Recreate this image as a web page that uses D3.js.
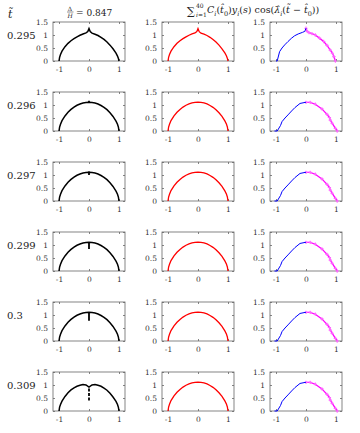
<!DOCTYPE html>
<html>
<head>
<meta charset="utf-8">
<script src="https://cdn.jsdelivr.net/npm/d3@7"></script>
<style>
  body { margin: 0; background: #fff; }
  svg { display: block; }
</style>
</head>
<body>
<svg id="chart" width="360" height="433"></svg>
<script>
// row labels (t tilde values)
var rowLabels = ["0.295", "0.296", "0.297", "0.299", "0.3", "0.309"];
var xTicks = [-1, 0, 1];
var yTicks = [0, 0.5, 1, 1.5];

// interface profile, smooth rows
var sGrid = [-1, -0.98, -0.95, -0.9, -0.8, -0.7, -0.6, -0.5, -0.4, -0.3, -0.2, -0.1, 0,
             0.1, 0.2, 0.3, 0.4, 0.5, 0.6, 0.7, 0.8, 0.9, 0.95, 0.98, 1];
var domeY = [0, 0.15, 0.26, 0.4, 0.58, 0.72, 0.83, 0.92, 0.99, 1.04, 1.08, 1.1, 1.11,
             1.1, 1.08, 1.04, 0.98, 0.91, 0.82, 0.7, 0.56, 0.38, 0.26, 0.15, 0];
var notchY = [0, 0.15, 0.25, 0.38, 0.56, 0.7, 0.81, 0.89, 0.95, 0.99, 1.02, 1.0, 0.92,
              1.0, 1.02, 0.99, 0.95, 0.88, 0.8, 0.68, 0.54, 0.37, 0.25, 0.14, 0];

// first row has a cusp at s = 0
var cuspS = [-1, -0.98, -0.95, -0.9, -0.8, -0.7, -0.6, -0.5, -0.4, -0.3, -0.2, -0.1, -0.04, 0,
             0.04, 0.1, 0.2, 0.3, 0.4, 0.5, 0.6, 0.7, 0.8, 0.9, 0.95, 0.98, 1];
var cuspY = [0, 0.14, 0.25, 0.38, 0.55, 0.68, 0.78, 0.86, 0.93, 0.99, 1.04, 1.08, 1.13, 1.25,
             1.13, 1.07, 1.03, 0.98, 0.91, 0.83, 0.73, 0.61, 0.47, 0.3, 0.19, 0.1, 0];

// modal reconstruction (third column)
var col3S = [-1.05, -0.96, -0.85, -0.8, -0.7, -0.6, -0.48, -0.37, -0.2, -0.03, 0,
             0.14, 0.31, 0.53, 0.7, 0.78, 0.81, 0.87, 0.98, 1.04];
var col3Y = [0, 0, 0.21, 0.36, 0.5, 0.62, 0.77, 0.9, 1.06, 1.1, 1.1,
             1.1, 1.03, 0.85, 0.64, 0.52, 0.42, 0.3, 0.1, 0];
var col3CuspS = [-1, -0.96, -0.88, -0.8, -0.71, -0.6, -0.49, -0.38, -0.26, -0.12, -0.04, 0,
                 0.04, 0.1, 0.2, 0.31, 0.45, 0.59, 0.7, 0.81, 0.88, 0.93, 0.98];
var col3CuspY = [0, 0, 0.36, 0.5, 0.62, 0.75, 0.87, 0.97, 1.04, 1.1, 1.14, 1.26,
                 1.14, 1.09, 1.05, 1.0, 0.88, 0.75, 0.6, 0.42, 0.3, 0.17, 0];

// vertical jet at s = 0 in the first column (null = none)
var spikeLo = [null, 1.1, 1.0, 0.85, 0.78, 0.4];
var spikeHi = [null, 1.16, 1.13, 1.1, 1.08, 0.93];

var col1Profile = ["cusp", "dome", "dome", "dome", "dome", "notch"];
var col2Profile = ["cusp", "dome", "dome", "dome", "dome", "dome"];
var col3Profile = ["cusp3", "modal", "modal", "modal", "modal", "modal"];

function profile(name) {
    if (name === "cusp") return d3.zip(cuspS, cuspY);
    if (name === "notch") return d3.zip(sGrid, notchY);
    if (name === "cusp3") return d3.zip(col3CuspS, col3CuspY);
    if (name === "modal") return d3.zip(col3S, col3Y);
    return d3.zip(sGrid, domeY);
}

var FONT = "'DejaVu Serif', serif";
var svg = d3.select("#chart");
var W = 72, H = 39;
var colX = [53, 162, 270];
var rowY = [22, 92, 162, 232, 302, 372];
var axisColor = "#666";

var x = d3.scaleLinear().domain([-1.2, 1.2]).range([0, W]);
var y = d3.scaleLinear().domain([0, 1.5]).range([H, 0]);
var line = d3.line().x(function (d) { return x(d[0]); }).y(function (d) { return y(d[1]); });

function label(sel) {
    return sel.attr("font-family", FONT).style("font-family", FONT).attr("fill", "#222");
}

function drawAxes(g) {
    var bottom = g.append("g").attr("transform", "translate(0," + H + ")")
        .call(d3.axisBottom(x).tickValues(xTicks).tickSize(-2).tickPadding(6).tickFormat(function (d) { return String(d); }));
    var left = g.append("g")
        .call(d3.axisLeft(y).tickValues(yTicks).tickSize(-2).tickPadding(5).tickFormat(function (d) { return String(d); }));
    var top = g.append("g")
        .call(d3.axisTop(x).tickValues(xTicks).tickSize(-2).tickFormat(""));
    var right = g.append("g").attr("transform", "translate(" + W + ",0)")
        .call(d3.axisRight(y).tickValues(yTicks).tickSize(-2).tickFormat(""));
    [bottom, left, top, right].forEach(function (a) {
        a.attr("font-family", FONT).attr("font-size", 7.5);
        a.select(".domain").remove();
        a.selectAll("line").attr("stroke", axisColor).attr("stroke-width", 0.8);
        label(a.selectAll("text")).style("font-size", "7.5px").attr("fill", "#333");
    });
    g.append("rect").attr("width", W).attr("height", H)
        .attr("fill", "none").attr("stroke", axisColor).attr("stroke-width", 0.8);
}

rowLabels.forEach(function (lab, r) {
    label(svg.append("text")).attr("x", 7).attr("y", rowY[r] + 16.5)
        .style("font-size", "10px").text(lab);

    // column 1: black interface with jet
    var g1 = svg.append("g").attr("transform", "translate(" + colX[0] + "," + rowY[r] + ")");
    drawAxes(g1);
    g1.append("path").datum(profile(col1Profile[r])).attr("d", line)
        .attr("fill", "none").attr("stroke", "#000").attr("stroke-width", 1.5);
    if (spikeLo[r] !== null) {
        g1.append("line")
            .attr("x1", x(0)).attr("x2", x(0))
            .attr("y1", y(spikeLo[r])).attr("y2", y(spikeHi[r]))
            .attr("stroke", "#000").attr("stroke-width", 1.8)
            .attr("stroke-dasharray", r === 5 ? "3,1.5" : null);
    }

    // column 2: red
    var g2 = svg.append("g").attr("transform", "translate(" + colX[1] + "," + rowY[r] + ")");
    drawAxes(g2);
    g2.append("path").datum(profile(col2Profile[r])).attr("d", line)
        .attr("fill", "none").attr("stroke", "#f00").attr("stroke-width", 1.3);

    // column 3: blue for s<0, magenta for s>0
    var g3 = svg.append("g").attr("transform", "translate(" + colX[2] + "," + rowY[r] + ")");
    drawAxes(g3);
    var pts = profile(col3Profile[r]);
    var leftPts = pts.filter(function (d) { return d[0] <= 0; });
    var rightPts = pts.filter(function (d) { return d[0] >= 0; });
    g3.append("path").datum(rightPts).attr("d", line)
        .attr("fill", "none").attr("stroke", "#f0f").attr("stroke-width", 1.3);
    g3.selectAll(".mk").data(rightPts).enter().append("path")
        .attr("class", "mk")
        .attr("d", d3.symbol().type(d3.symbolCross).size(6))
        .attr("transform", function (d) { return "translate(" + x(d[0]) + "," + y(d[1]) + ")"; })
        .attr("fill", "#f6f");
    g3.append("path").datum(leftPts).attr("d", line)
        .attr("fill", "none").attr("stroke", "#00f").attr("stroke-width", 1);
});

// header: t tilde
label(svg.append("text")).attr("x", 8).attr("y", 18)
    .style("font-size", "11px").style("font-style", "italic").text("t\u0303");

// header: Delta/H = 0.847
label(svg.append("text")).attr("x", 70).attr("y", 10.5).attr("text-anchor", "middle")
    .style("font-size", "6px").text("\u0394");
svg.append("line").attr("x1", 67).attr("x2", 73.5).attr("y1", 12).attr("y2", 12)
    .attr("stroke", "#222").attr("stroke-width", 0.5);
label(svg.append("text")).attr("x", 70.2).attr("y", 17.5).attr("text-anchor", "middle")
    .style("font-size", "6px").style("font-style", "italic").text("H");
label(svg.append("text")).attr("x", 76).attr("y", 16).style("font-size", "9px").text("= 0.847");

// header: modal sum
label(svg.append("text")).attr("x", 187).attr("y", 14.5).style("font-size", "11px").text("\u2211");
label(svg.append("text")).attr("x", 196).attr("y", 7.5).style("font-size", "6px").text("40");
var sub = label(svg.append("text")).attr("x", 196).attr("y", 16.5).style("font-size", "6px");
sub.append("tspan").style("font-style", "italic").text("i");
sub.append("tspan").text("=1");

// [text, italic, subscript]
var titleParts = [
    ["C", 1, 0], ["i", 1, 1], ["(", 0, 0], ["t\u0302", 1, 0], ["0", 0, 1], [")", 0, 0],
    ["y", 1, 0], ["i", 1, 1], ["(", 0, 0], ["s", 1, 0], [") cos(", 0, 0],
    ["\u03bb\u0302", 1, 0], ["i", 1, 1], ["(", 0, 0], ["t\u0303", 1, 0], [" \u2212 ", 0, 0],
    ["t\u0302", 1, 0], ["0", 0, 1], ["))", 0, 0]
];
var t = label(svg.append("text")).attr("x", 207).attr("y", 13)
    .style("font-size", "9.5px");
var prevOff = 0;
titleParts.forEach(function (p) {
    var off = p[2] ? 2.5 : 0;
    t.append("tspan").attr("dy", off - prevOff)
        .style("font-size", p[2] ? "6.5px" : "9.5px")
        .style("font-style", p[1] ? "italic" : "normal")
        .text(p[0]);
    prevOff = off;
});
</script>
</body>
</html>
